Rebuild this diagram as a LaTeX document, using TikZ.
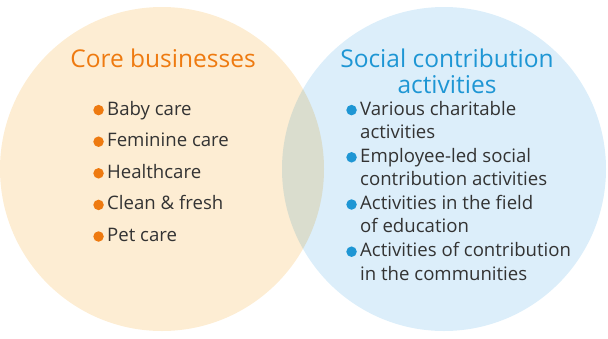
\documentclass[tikz,border=0pt]{standalone}
\usepackage{fontspec}
\setmainfont{Open Sans}
\usetikzlibrary{positioning}
\definecolor{corefill}{HTML}{FDEDD3}
\definecolor{socialfill}{HTML}{DCEEFA}
\definecolor{coretext}{HTML}{EE7A10}
\definecolor{socialtext}{HTML}{1E96D4}
\definecolor{itemtext}{HTML}{333333}
\begin{document}
\begin{tikzpicture}[
  x=1pt,y=-1pt,
  font=\fontsize{18.6}{23.4}\selectfont,
  venn/.style={circle,minimum size=324pt,inner sep=0pt},
  head/.style={font=\fontsize{24.5}{24}\selectfont,align=center,inner sep=0pt,anchor=north},
  item/.style={text=itemtext,align=left,inner sep=0pt,anchor=north west},
  coredot/.style={circle,fill=coretext,minimum size=10.5pt,inner sep=0pt},
  socialdot/.style={circle,fill=socialtext,minimum size=10.5pt,inner sep=0pt}
]
\useasboundingbox (0,0) rectangle (608,338);
\begin{scope}[blend group=multiply]
\node[venn,fill=corefill] (core) at (162,169) {};
\node[venn,fill=socialfill] (social) at (444,169) {};
\end{scope}

\node[head,text=coretext] (coreh) at (163,48.2) {\strut Core businesses};
\node[head,text=socialtext] (socialh) at (447,48.2) {\strut Social contribution\\\strut activities};

% core businesses
\node[item] (baby) at (107,98.6) {\strut Baby care};
\node[item,below=7.8pt of baby.south west,anchor=north west] (fem) {\strut Feminine care};
\node[item,below=7.8pt of fem.south west,anchor=north west] (health) {\strut Healthcare};
\node[item,below=7.8pt of health.south west,anchor=north west] (clean) {\strut Clean \& fresh};
\node[item,below=7.8pt of clean.south west,anchor=north west] (pet) {\strut Pet care};
\foreach \n in {baby,fem,health,clean,pet}
  \node[coredot,left=3pt of \n.north west,yshift=-11.5pt] {};

% social contribution activities
\node[item] (chari) at (360,98.6) {\strut Various charitable\\\strut activities};
\node[item,below=0pt of chari.south west,anchor=north west] (empl) {\strut Employee-led social\\\strut contribution activities};
\node[item,below=0pt of empl.south west,anchor=north west] (edu) {\strut Activities in the field\\\strut of education};
\node[item,below=0pt of edu.south west,anchor=north west] (comm) {\strut Activities of contribution\\\strut in the communities};
\foreach \n in {chari,empl,edu,comm}
  \node[socialdot,left=3pt of \n.north west,yshift=-11.5pt] {};
\end{tikzpicture}
\end{document}
